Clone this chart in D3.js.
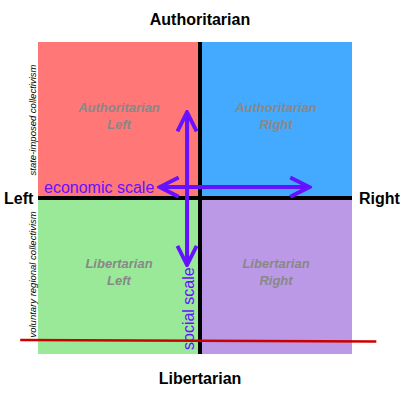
<!DOCTYPE html>
<html>
<head>
<meta charset="utf-8">
<script src="https://cdn.jsdelivr.net/npm/d3@7"></script>
<style>body{margin:0;background:#fff}</style>
</head>
<body>
<script>
// data
var quadrants = [
  {name: ["Authoritarian", "Left"], x0: -10, x1: 0, y0: 10, y1: 0, color: "#ff7777"},
  {name: ["Authoritarian", "Right"], x0: 0, x1: 10, y0: 10, y1: 0, color: "#44aaff"},
  {name: ["Libertarian", "Left"], x0: -10, x1: 0, y0: 0, y1: -10, color: "#99e999"},
  {name: ["Libertarian", "Right"], x0: 0, x1: 10, y0: 0, y1: -10, color: "#bb99e6"}
];
var axisTitles = {top: "Authoritarian", bottom: "Libertarian", left: "Left", right: "Right"};
var sideNotes = [
  {text: "state-imposed collectivism", y: 5},
  {text: "voluntary regional collectivism", y: -4.9}
];
var econArrow = [-2.5, 7.2, 0.7];   // x from, x to, y
var socialArrow = [-0.8, 5.5, -4.3]; // x, y from, y to
var redLine = [[-11.1, -9.1], [11.6, -9.2]];

var svg = d3.select("body").append("svg").attr("width", 400).attr("height", 400);

var x = d3.scaleLinear().domain([-10, 0, 10]).range([38, 200, 352]);
var y = d3.scaleLinear().domain([10, 0, -10]).range([42, 198, 354]);

svg.selectAll("rect.q").data(quadrants).enter().append("rect")
  .attr("x", d => x(d.x0)).attr("y", d => y(d.y0))
  .attr("width", d => x(d.x1) - x(d.x0)).attr("height", d => y(d.y1) - y(d.y0))
  .attr("fill", d => d.color);

svg.selectAll("text.q").data(quadrants).enter().append("text")
  .attr("x", d => x((d.x0 + d.x1) / 2)).attr("y", d => y((d.y0 + d.y1) / 2) - 8)
  .attr("text-anchor", "middle").attr("fill", "#888")
  .style("font", "italic bold 13px 'Liberation Sans', sans-serif")
  .selectAll("tspan").data(d => d.name).enter().append("tspan")
  .attr("x", function() { return this.parentNode.getAttribute("x"); })
  .attr("dy", (d, i) => i ? 17 : 0).text(d => d);

// main axes
svg.append("line").attr("x1", x(0)).attr("x2", x(0)).attr("y1", y(10)).attr("y2", y(-10))
  .attr("stroke", "#000").attr("stroke-width", 4);
svg.append("line").attr("x1", x(-10)).attr("x2", x(10)).attr("y1", y(0)).attr("y2", y(0))
  .attr("stroke", "#000").attr("stroke-width", 4);

var titleFont = "bold 16px 'Liberation Sans', sans-serif";
svg.append("text").attr("x", 200).attr("y", 25).attr("text-anchor", "middle").style("font", titleFont).text(axisTitles.top);
svg.append("text").attr("x", 200).attr("y", 384).attr("text-anchor", "middle").style("font", titleFont).text(axisTitles.bottom);
svg.append("text").attr("x", 4).attr("y", y(0) + 6).style("font", titleFont).text(axisTitles.left);
svg.append("text").attr("x", 359).attr("y", y(0) + 6).style("font", titleFont).text(axisTitles.right);

svg.selectAll("text.note").data(sideNotes).enter().append("text")
  .attr("transform", d => `translate(36,${y(d.y)}) rotate(-90)`)
  .attr("text-anchor", "middle").style("font", "italic 9.5px 'Liberation Sans', sans-serif").text(d => d.text);

// arrows
var purple = "#6611ff";
var defs = svg.append("defs");
defs.append("marker").attr("id", "ah").attr("viewBox", "0 0 10 10").attr("refX", 9).attr("refY", 5)
  .attr("markerWidth", 6).attr("markerHeight", 6).attr("orient", "auto-start-reverse")
  .append("path").attr("d", "M1,1 L9,5 L1,9").attr("fill", "none").attr("stroke", purple).attr("stroke-width", 1.6);

svg.append("line").attr("x1", x(econArrow[0])).attr("x2", x(econArrow[1]))
  .attr("y1", y(econArrow[2])).attr("y2", y(econArrow[2]))
  .attr("stroke", purple).attr("stroke-width", 4)
  .attr("marker-start", "url(#ah)").attr("marker-end", "url(#ah)");
svg.append("line").attr("x1", x(socialArrow[0])).attr("x2", x(socialArrow[0]))
  .attr("y1", y(socialArrow[1])).attr("y2", y(socialArrow[2]))
  .attr("stroke", purple).attr("stroke-width", 4)
  .attr("marker-start", "url(#ah)").attr("marker-end", "url(#ah)");

svg.append("text").attr("x", 44).attr("y", y(econArrow[2]) + 6).attr("fill", purple)
  .style("font", "16px 'Liberation Sans', sans-serif").text("economic scale");
svg.append("text").attr("transform", `translate(${x(socialArrow[0]) + 7},350) rotate(-90)`).attr("fill", purple)
  .style("font", "16px 'Liberation Sans', sans-serif").text("social scale");

svg.append("line").attr("x1", x(redLine[0][0])).attr("y1", y(redLine[0][1]))
  .attr("x2", x(redLine[1][0])).attr("y2", y(redLine[1][1]))
  .attr("stroke", "#cc0000").attr("stroke-width", 2.5);
</script>
</body>
</html>
